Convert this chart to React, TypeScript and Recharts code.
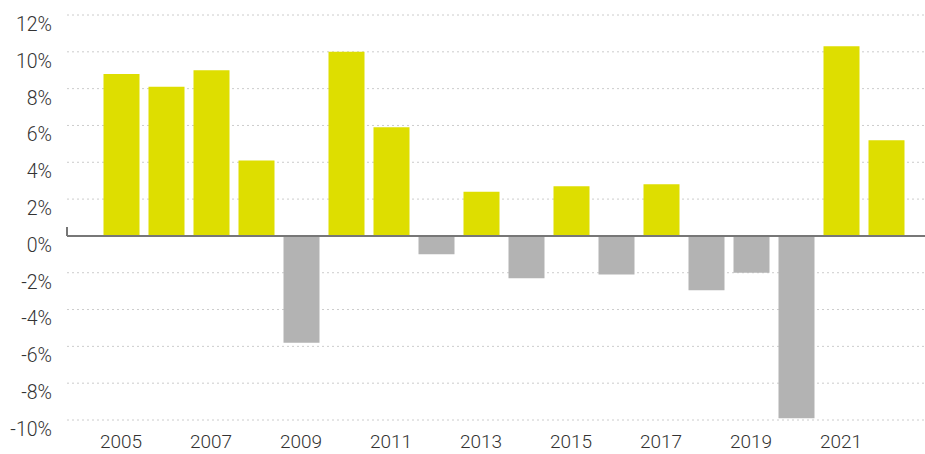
import React from 'react';
import { BarChart, Bar, XAxis, YAxis, CartesianGrid, ReferenceLine, Cell } from 'recharts';

const years = ['2005','2006','2007','2008','2009','2010','2011','2012','2013','2014','2015','2016','2017','2018','2019','2020','2021','2022'];
const growth = [8.8, 8.1, 9.0, 4.1, -5.8, 10.0, 5.9, -1.0, 2.4, -2.3, 2.7, -2.1, 2.8, -2.95, -2.0, -9.9, 10.3, 5.2];
const yTicks = [-10, -8, -6, -4, -2, 0, 2, 4, 6, 8, 10, 12];

const data = years.map((y, i) => ({ year: y, value: growth[i] }));

const POS = '#dede00';
const NEG = '#b3b3b3';

const ZeroLine = (p: any) => (
  <g>
    <line x1={p.x1} x2={p.x2} y1={p.y1} y2={p.y2} stroke="#777" strokeWidth={2} />
    <line x1={p.x1} x2={p.x1} y1={p.y1 - 9} y2={p.y1} stroke="#777" strokeWidth={2} />
  </g>
);

export default function App() {
  return (
    <div style={{ position: 'absolute', left: 0, top: 0 }}>
      <BarChart width={925} height={454} data={data} margin={{ top: 15, right: 0, bottom: 0, left: 0 }}>
        <CartesianGrid vertical={false} stroke="#cccccc" strokeDasharray="2 3" />
        <XAxis
          dataKey="year"
          interval={1}
          axisLine={false}
          tickLine={false}
          tickSize={0}
          tickMargin={15}
          height={34}
          padding={{ left: 31.5, right: 16.5 }}
          tick={{ fill: '#333', fontSize: 19, fontFamily: 'Roboto', fontWeight: 300 }}
        />
        <YAxis
          domain={[-10, 12]}
          ticks={yTicks}
          interval={0}
          axisLine={false}
          tickLine={false}
          tickSize={0}
          tickMargin={15}
          width={67}
          tickFormatter={(v: number) => `${v}%`}
          tick={{ fill: '#333', fontSize: 19.5, fontFamily: 'Roboto', fontWeight: 300, dy: 9 }}
        />
        <Bar dataKey="value" barSize={36} isAnimationActive={false}>
          {data.map((d, i) => (
            <Cell key={i} fill={d.value >= 0 ? POS : NEG} />
          ))}
        </Bar>
        <ReferenceLine y={0} shape={ZeroLine} />
      </BarChart>
    </div>
  );
}
